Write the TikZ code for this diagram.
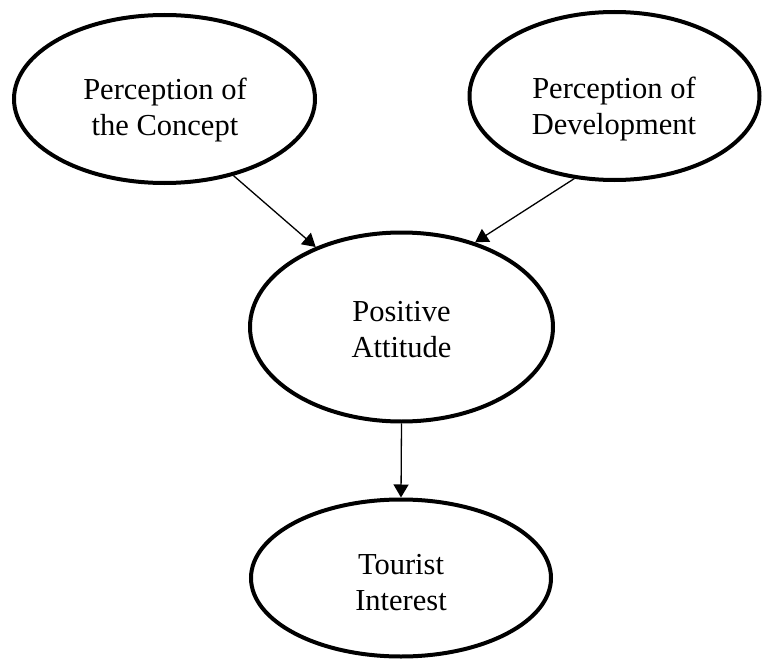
\documentclass[tikz,border=0pt]{standalone}
\usepackage{fontspec}
\setmainfont{Liberation Serif}
\usetikzlibrary{shapes.geometric,arrows.meta}
\tikzset{
  oval/.style={draw=black, line width=4pt, ellipse, inner sep=0pt},
  txt/.style={align=center, inner sep=0pt, font=\fontsize{30.5}{36}\selectfont},
  link/.style={line width=1.3pt, -{Triangle[length=13pt,width=15pt]}}
}
\begin{document}
\begin{tikzpicture}[x=1pt,y=-1pt]
\useasboundingbox (0,0) rectangle (764,661);
\node[oval, minimum width=301pt, minimum height=168pt] (pc) at (164.5,99) {};
\node[oval, minimum width=290pt, minimum height=168pt] (pd) at (614.5,96) {};
\node[oval, minimum width=303pt, minimum height=189pt] (pa) at (401.5,327) {};
\node[oval, minimum width=300pt, minimum height=157pt] (ti) at (401,578) {};
\node[txt] (pct) at (165,110) {Perception of\\the Concept};
\node[txt] (pdt) at (614,109) {Perception of\\Development};
\node[txt] (pat) at (401.5,330) {Positive\\Attitude};
\node[txt] (tit) at (401,583) {Tourist\\Interest};
\draw[link] (pc.-48.5) -- (pa.137.2);
\draw[link] (pd.-116.6) -- (pa.49.7);
\draw[link] (pa.south) -- (ti.north);
\end{tikzpicture}
\end{document}
